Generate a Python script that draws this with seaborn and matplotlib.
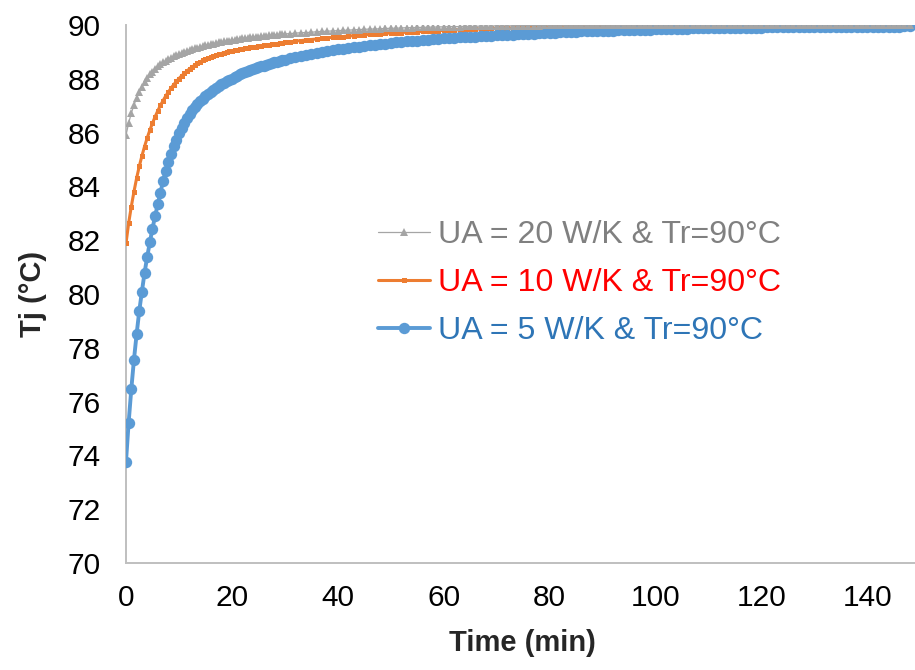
import numpy as np
import pandas as pd
import seaborn as sns
import matplotlib.pyplot as plt

# sampling times (min): every 0.5 min up to 30, then every minute
time_early = np.arange(0, 30.5, 0.5)
time_late = np.arange(31, 149, 1)

ua20_early = [85.90, 86.35, 86.72, 87.02, 87.28, 87.51, 87.71, 87.88, 88.03, 88.16,
              88.27, 88.37, 88.46, 88.54, 88.61, 88.67, 88.73, 88.78, 88.83, 88.88,
              88.92, 88.96, 89.00, 89.03, 89.07, 89.10, 89.13, 89.16, 89.19, 89.21,
              89.24, 89.26, 89.28, 89.31, 89.33, 89.35, 89.37, 89.39, 89.40, 89.42,
              89.44, 89.45, 89.47, 89.48, 89.50, 89.51, 89.52, 89.54, 89.55, 89.56,
              89.57, 89.58, 89.59, 89.60, 89.61, 89.62, 89.63, 89.64, 89.65, 89.66,
              89.67]
ua20_late = [89.68, 89.70, 89.71, 89.72, 89.73, 89.75, 89.76, 89.77, 89.78, 89.79,
             89.80, 89.81, 89.82, 89.83, 89.84, 89.85, 89.85, 89.86, 89.87, 89.88,
             89.88, 89.89, 89.90, 89.90, 89.91, 89.91, 89.92, 89.92, 89.93, 89.93,
             89.94, 89.94, 89.94, 89.95, 89.95, 89.95, 89.96, 89.96, 89.96, 89.97,
             89.97, 89.97, 89.97, 89.98, 89.98, 89.98, 89.98, 89.98, 89.99, 89.99,
             89.99, 89.99, 89.99, 89.99, 89.99, 89.99, 89.99, 89.99, 89.99, 89.99,
             89.99, 89.99, 89.99, 89.99, 89.99, 90.00, 90.00, 90.00, 90.00, 90.00,
             90.00, 90.00, 90.00, 90.00, 90.00, 90.00, 90.00, 90.00, 90.00, 90.00,
             90.00, 90.00, 90.00, 90.00, 90.00, 90.00, 90.00, 90.00, 90.00, 90.00,
             90.00, 90.00, 90.00, 90.00, 90.00, 90.00, 90.00, 90.00, 90.00, 90.00,
             90.00, 90.00, 90.00, 90.00, 90.00, 90.00, 90.00, 90.00, 90.00, 90.00,
             90.00, 90.00, 90.00, 90.00, 90.00, 90.00, 90.00, 90.00]

ua10_early = [81.88, 82.63, 83.25, 83.80, 84.30, 84.74, 85.13, 85.48, 85.80, 86.09,
              86.35, 86.59, 86.81, 87.01, 87.19, 87.36, 87.51, 87.65, 87.78, 87.90,
              88.01, 88.11, 88.20, 88.29, 88.37, 88.44, 88.51, 88.57, 88.63, 88.68,
              88.73, 88.77, 88.81, 88.85, 88.88, 88.91, 88.94, 88.97, 89.00, 89.02,
              89.04, 89.06, 89.08, 89.10, 89.12, 89.14, 89.16, 89.17, 89.19, 89.20,
              89.22, 89.23, 89.25, 89.26, 89.27, 89.29, 89.30, 89.31, 89.32, 89.33,
              89.35]
ua10_late = [89.37, 89.40, 89.42, 89.44, 89.46, 89.48, 89.50, 89.52, 89.54, 89.56,
             89.57, 89.59, 89.60, 89.62, 89.63, 89.65, 89.66, 89.67, 89.69, 89.70,
             89.71, 89.72, 89.73, 89.74, 89.75, 89.76, 89.77, 89.78, 89.79, 89.80,
             89.81, 89.82, 89.82, 89.83, 89.84, 89.85, 89.85, 89.86, 89.87, 89.87,
             89.88, 89.88, 89.89, 89.89, 89.90, 89.90, 89.91, 89.91, 89.92, 89.92,
             89.92, 89.93, 89.93, 89.93, 89.94, 89.94, 89.94, 89.95, 89.95, 89.95,
             89.95, 89.96, 89.96, 89.96, 89.96, 89.97, 89.97, 89.97, 89.97, 89.97,
             89.98, 89.98, 89.98, 89.98, 89.98, 89.98, 89.98, 89.98, 89.98, 89.98,
             89.98, 89.98, 89.98, 89.98, 89.98, 89.99, 89.99, 89.99, 89.99, 89.99,
             89.99, 89.99, 89.99, 89.99, 89.99, 89.99, 89.99, 89.99, 89.99, 89.99,
             90.00, 90.00, 90.00, 90.00, 90.00, 90.00, 90.00, 90.00, 90.00, 90.00,
             90.00, 90.00, 90.00, 90.00, 90.00, 90.00, 90.00, 90.00]

ua5_early = [73.77, 75.22, 76.46, 77.55, 78.50, 79.36, 80.09, 80.78, 81.38, 81.92,
             82.43, 82.90, 83.33, 83.76, 84.20, 84.58, 84.92, 85.22, 85.49, 85.74,
             85.97, 86.18, 86.37, 86.54, 86.69, 86.83, 86.95, 87.06, 87.16, 87.26,
             87.35, 87.44, 87.52, 87.59, 87.66, 87.73, 87.79, 87.85, 87.91, 87.96,
             88.01, 88.06, 88.11, 88.16, 88.20, 88.24, 88.28, 88.32, 88.36, 88.40,
             88.43, 88.46, 88.49, 88.52, 88.55, 88.58, 88.61, 88.64, 88.66, 88.69,
             88.71]
ua5_late = [88.76, 88.81, 88.85, 88.89, 88.93, 88.96, 89.00, 89.03, 89.06, 89.09,
            89.12, 89.15, 89.17, 89.20, 89.22, 89.25, 89.27, 89.29, 89.31, 89.33,
            89.35, 89.37, 89.39, 89.40, 89.42, 89.44, 89.45, 89.47, 89.48, 89.50,
            89.51, 89.52, 89.54, 89.55, 89.56, 89.57, 89.58, 89.59, 89.60, 89.61,
            89.62, 89.63, 89.64, 89.65, 89.66, 89.67, 89.68, 89.69, 89.70, 89.71,
            89.72, 89.73, 89.73, 89.74, 89.75, 89.76, 89.76, 89.77, 89.78, 89.78,
            89.79, 89.79, 89.80, 89.81, 89.81, 89.82, 89.82, 89.83, 89.83, 89.84,
            89.84, 89.85, 89.85, 89.86, 89.86, 89.86, 89.87, 89.87, 89.87, 89.88,
            89.88, 89.88, 89.89, 89.89, 89.89, 89.89, 89.90, 89.90, 89.90, 89.90,
            89.91, 89.91, 89.91, 89.91, 89.91, 89.92, 89.92, 89.92, 89.92, 89.92,
            89.92, 89.93, 89.93, 89.93, 89.93, 89.93, 89.93, 89.93, 89.94, 89.94,
            89.94, 89.94, 89.94, 89.94, 89.94, 89.94, 89.95, 89.95]

labels = ['UA = 20 W/K & Tr=90°C', 'UA = 10 W/K & Tr=90°C', 'UA = 5 W/K & Tr=90°C']
x_ticks = [0, 20, 40, 60, 80, 100, 120, 140]
y_ticks = [70, 72, 74, 76, 78, 80, 82, 84, 86, 88, 90]

time_min = np.concatenate([time_early, time_late])
df = pd.DataFrame({
    'time': np.tile(time_min, 3),
    'Tj': ua20_early + ua20_late + ua10_early + ua10_late + ua5_early + ua5_late,
    'series': np.repeat(labels, len(time_min)),
})

sns.set_theme(style='white')
plt.rcParams['font.family'] = ['Liberation Sans', 'DejaVu Sans']

fig = plt.figure(figsize=(9.15, 6.7), dpi=100)
ax = fig.add_axes([0.1377, 0.1597, 0.8623, 0.8030])

styles = {
    labels[0]: dict(color='#a5a5a5', marker='^', markersize=5.5, linewidth=0.9, zorder=4),
    labels[1]: dict(color='#ed7d31', marker='s', markersize=3.6, linewidth=2.2, zorder=2),
    labels[2]: dict(color='#5b9bd5', marker='o', markersize=8.2, linewidth=2.8, zorder=3),
}
for name in labels:
    st = styles[name]
    sns.lineplot(data=df[df['series'] == name], x='time', y='Tj', ax=ax, label=name,
                 color=st['color'], marker=st['marker'], markersize=st['markersize'],
                 linewidth=st['linewidth'], markeredgecolor=st['color'],
                 markeredgewidth=0, zorder=st['zorder'], errorbar=None)

ax.set_xlim(0, 149)
ax.set_ylim(70, 90)
ax.set_xticks(x_ticks)
ax.set_yticks(y_ticks)
ax.tick_params(axis='both', length=0, labelsize=21.5, colors='black')
ax.tick_params(axis='y', pad=18)
ax.tick_params(axis='x', pad=15)
for side in ['top', 'right']:
    ax.spines[side].set_visible(False)
for side in ['left', 'bottom']:
    ax.spines[side].set_color('#bfbfbf')
    ax.spines[side].set_linewidth(1.4)
    ax.spines[side].set_zorder(1)

ax.set_xlabel('Time (min)', fontsize=21, fontweight='bold')
ax.set_ylabel('Tj (°C)', fontsize=21, fontweight='bold')
ax.xaxis.set_label_coords(0.503, -0.122)
ax.yaxis.set_label_coords(-0.100, 0.5)

leg = ax.legend(loc='center left', bbox_to_anchor=(378 / 915, 1 - 283 / 670),
                bbox_transform=fig.transFigure, frameon=False, fontsize=23.1,
                handlelength=1.62, handletextpad=0.26, labelspacing=0.56,
                borderpad=0, borderaxespad=0)
for txt, col in zip(leg.get_texts(), ['#808080', '#ff0000', '#2e75b6']):
    txt.set_color(col)

fig.savefig('out.png', dpi=100)
